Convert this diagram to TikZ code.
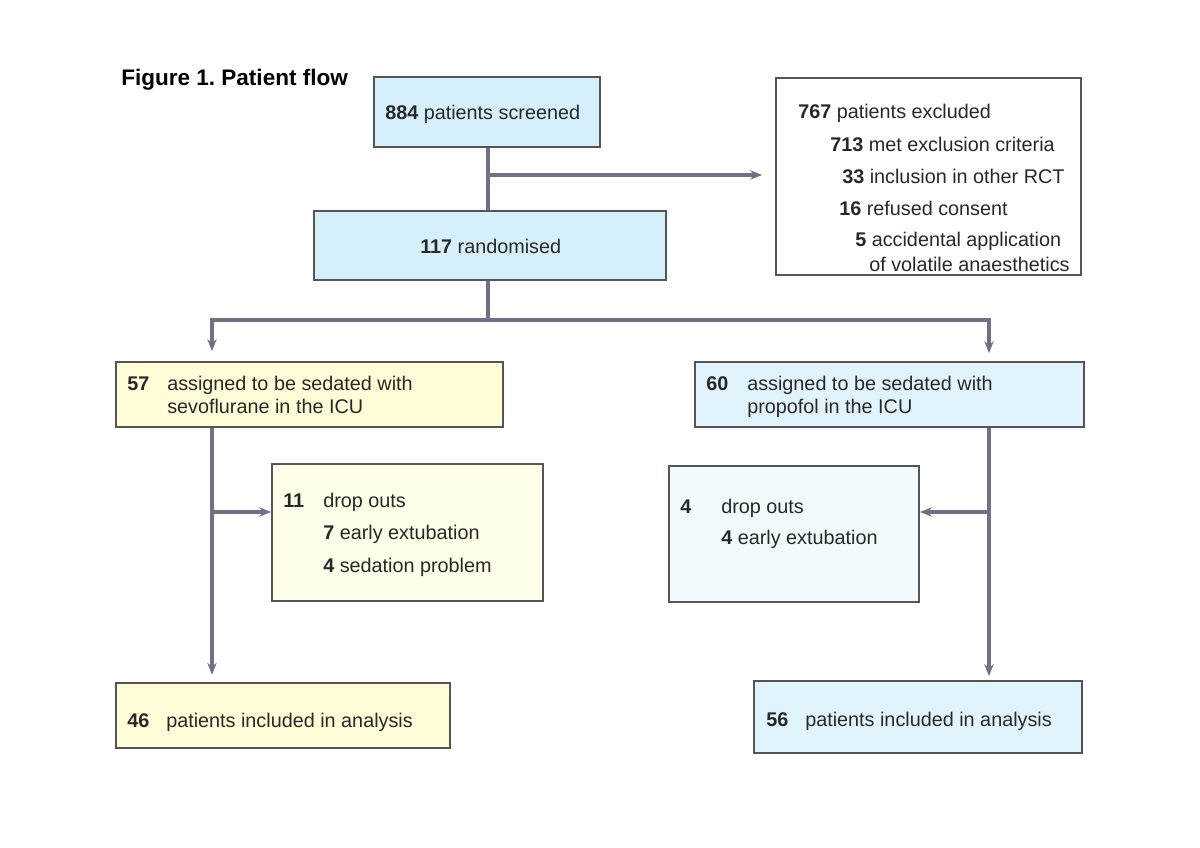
\documentclass[tikz,border=0pt]{standalone}
\usepackage{fontspec}
\setmainfont{Liberation Sans}
\frenchspacing
\usetikzlibrary{fit,arrows.meta}
\definecolor{blueA}{RGB}{213,239,251}
\definecolor{blueD}{RGB}{225,244,253}
\definecolor{blueH}{RGB}{243,250,254}
\definecolor{yelC}{RGB}{255,253,216}
\definecolor{yelG}{RGB}{255,254,232}
\definecolor{bord}{RGB}{85,85,85}
\definecolor{conncol}{RGB}{112,112,136}
\definecolor{txt}{RGB}{40,40,40}
\tikzset{
  box/.style={draw=bord, line width=1.3pt, inner sep=0pt},
  conn/.style={draw=conncol, line width=2.3pt},
  arr/.style={conn, -{Stealth[length=9pt,width=7pt,inset=3pt]}},
  lbl/.style={anchor=base west, inner sep=0pt, text=txt, font=\fontsize{14.85}{17}\selectfont},
  ttl/.style={anchor=base west, inner sep=0pt, text=black, font=\fontsize{16.9}{20}\selectfont\bfseries},
}
\begin{document}
\begin{tikzpicture}[x=0.75pt,y=-0.75pt]
\useasboundingbox[fill=white] (0,0) rectangle (1200,848);

\node[ttl] (title) at (121,86) {Figure 1. Patient flow};

% boxes
\node[box, fill=blueA, fit={(374,77) (600,147)}] (a) {};
\node[box, fill=blueA, fit={(314,211) (666,280)}] (b) {};
\node[box, fill=white, fit={(776,78) (1081,275)}] (excl) {};
\node[box, fill=yelC, fit={(116,362) (503,427)}] (c) {};
\node[box, fill=blueD, fit={(695,362) (1084,427)}] (d) {};
\node[box, fill=yelG, fit={(272,464) (543,601)}] (g) {};
\node[box, fill=blueH, fit={(669,466) (919,602)}] (h) {};
\node[box, fill=yelC, fit={(116,683) (450,748)}] (e) {};
\node[box, fill=blueD, fit={(754,681) (1082,753)}] (f) {};

% box A, B texts
\node[lbl] (a1) at (385,120) {\textbf{884} patients screened};
\node[lbl] (b1) at (420,254) {\textbf{117} randomised};

% exclusion texts
\node[lbl] (x1) at (798,119) {\textbf{767} patients excluded};
\node[lbl] (x2) at (830,151.5) {\textbf{713} met exclusion criteria};
\node[lbl] (x3) at (842,183.5) {\textbf{33} inclusion in other RCT};
\node[lbl] (x4) at (839,216) {\textbf{16} refused consent};
\node[lbl] (x5) at (855,247) {\textbf{5} accidental application};
\node[lbl] (x6) at (869,271.5) {of volatile anaesthetics};

% box C texts
\node[lbl] (c1) at (127,391) {\textbf{57}};
\node[lbl] (c2) at (167,391) {assigned to be sedated with};
\node[lbl] (c3) at (167,413.5) {sevoflurane in the ICU};
% box D texts
\node[lbl] (d1) at (706,391) {\textbf{60}};
\node[lbl] (d2) at (747,391) {assigned to be sedated with};
\node[lbl] (d3) at (747,413.5) {propofol in the ICU};
% box G texts
\node[lbl] (g1) at (283,508) {\textbf{11}};
\node[lbl] (g2) at (323,508) {drop outs};
\node[lbl] (g3) at (323,539) {\textbf{7} early extubation};
\node[lbl] (g4) at (323,572) {\textbf{4} sedation problem};
% box H texts
\node[lbl] (h1) at (680,513) {\textbf{4}};
\node[lbl] (h2) at (721,513) {drop outs};
\node[lbl] (h3) at (721,544) {\textbf{4} early extubation};
% box E, F texts
\node[lbl] (e1) at (127,727) {\textbf{46}};
\node[lbl] (e2) at (166,727) {patients included in analysis};
\node[lbl] (f1) at (766,726) {\textbf{56}};
\node[lbl] (f2) at (805,726) {patients included in analysis};

% connectors
\coordinate (br1) at (488,175);
\coordinate (split) at (488,320);
\coordinate (sl) at (212,320);
\coordinate (sr) at (989,320);
\coordinate (bl) at (212,512);
\coordinate (brr) at (989,512);

\draw[conn] (a.south -| br1) -- (b.north -| br1);
\draw[arr, shorten >=9.75pt] (br1) -- (br1 -| excl.west);
\draw[conn] (b.south -| split) -- (split);
\draw[arr, shorten >=7.5pt, line join=miter] (split) -- (sl) -- (sl |- c.north);
\draw[arr, shorten >=6pt, line join=miter] (split) -- (sr) -- (sr |- d.north);
\draw[arr, shorten >=5.5pt] (c.south -| sl) -- (e.north -| sl);
\draw[arr] (bl) -- (g.west |- bl);
\draw[arr, shorten >=3pt] (d.south -| sr) -- (f.north -| sr);
\draw[arr] (brr) -- (h.east |- brr);
\end{tikzpicture}
\end{document}
